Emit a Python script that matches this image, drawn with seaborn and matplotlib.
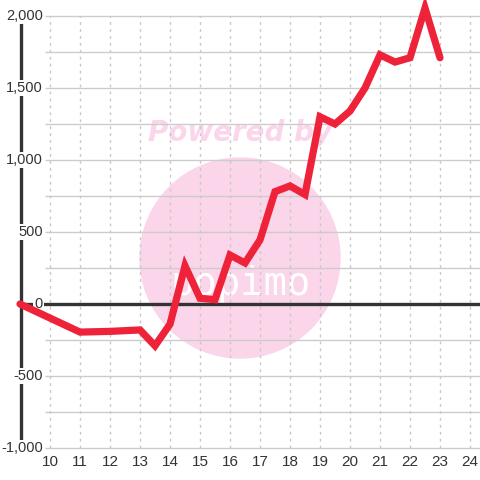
import matplotlib
matplotlib.use('Agg')
import matplotlib.pyplot as plt
import matplotlib.patches as mpatches
import seaborn as sns
import pandas as pd


hours = [9, 11, 12, 13, 13.5, 14, 14.5, 15, 15.5, 16, 16.5, 17, 17.5, 18,
         18.5, 19, 19.5, 20, 20.5, 21, 21.5, 22, 22.5, 23]
values = [0, -195, -190, -180, -290, -140, 265, 40, 30, 340, 285, 445, 780, 820,
          760, 1300, 1250, 1340, 1500, 1730, 1680, 1710, 2055, 1710]

x_ticks = list(range(10, 25))
y_ticks = [-1000, -500, 0, 500, 1000, 1500, 2000]
y_grid = list(range(-1000, 2001, 250))

df = pd.DataFrame({'hour': hours, 'value': values})

sns.set_style('white')
plt.rcParams['font.family'] = ['Liberation Sans', 'DejaVu Sans']

fig = plt.figure(figsize=(4.8, 4.8), dpi=100)
ax = fig.add_axes([0, 0, 1, 1])
ax.set_xlim(8.3333, 24.3333)
ax.set_ylim(-1222, 2111)
ax.axis('off')

# watermark
ax.add_patch(mpatches.Ellipse((240 / 480, 1 - 258 / 480), 200 / 480, 200 / 480,
                              transform=fig.transFigure, color='#fbd5ea', zorder=0))
ax.text(240 / 480, 1 - 133 / 480, 'Powered by', color='#fbd5ea', fontsize=20,
        fontweight='bold', fontstyle='italic', ha='center', va='center',
        family='DejaVu Sans', transform=fig.transFigure, zorder=0.5)
ax.text(240 / 480, 1 - 284 / 480, 'popimo', color='white', fontsize=28,
        ha='center', va='center', family='DejaVu Sans Mono', fontstretch='condensed',
        transform=fig.transFigure, zorder=0.5)

# grid
gx0 = 9 + 25 / 30
ax.hlines(y_grid, gx0, 24.3333, color='#cccccc', lw=1, zorder=1)
ax.vlines(x_ticks, -1000, 2000, color='#c8c8c8', lw=1, linestyles=(0, (2, 3)), zorder=1)

# axis lines
ax.hlines(0, 9, 24.3333, color='#333333', lw=2.4, zorder=2)
ax.vlines(9.03, -1000, 2000, color='#333333', lw=2.4, zorder=2)

sns.lineplot(data=df, x='hour', y='value', ax=ax, color='#ee2238', lw=5.2,
             solid_joinstyle='miter', zorder=3)

for v in y_ticks:
    ax.text(9 + 23 / 30, v, f'{v:,}', ha='right', va='center', fontsize=10.5,
            color='#333333', zorder=2.5,
            bbox=dict(facecolor='white', edgecolor='none', pad=1))
for h in x_ticks:
    ax.text(h, -1000 - 14 / 36 * 250, str(h), ha='center', va='center',
            fontsize=11, color='#333333', zorder=4)

fig.savefig('out.png', dpi=100, facecolor='white')
